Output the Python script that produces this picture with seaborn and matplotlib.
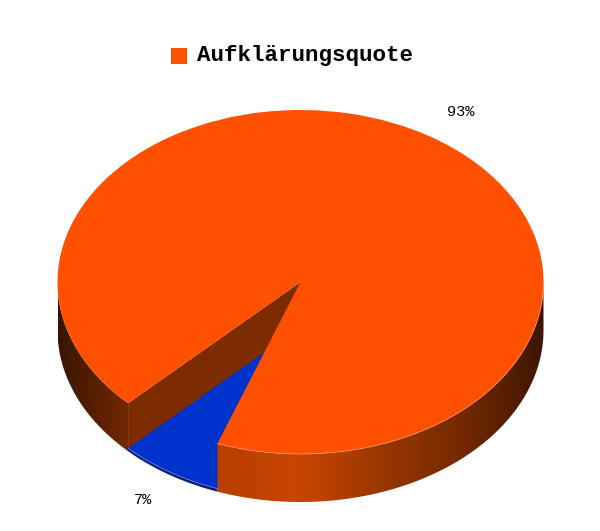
import matplotlib
matplotlib.use("Agg")
import matplotlib.pyplot as plt
from matplotlib.patches import Polygon
import numpy as np
import seaborn as sns

slices = ["Aufklärungsquote", "Rest"]
shares = [93, 7]

ORANGE = "#ff5000"
BLUE = "#0033cc"
DARK_BLUE = "#0a1f7a"
CUT_WALL = "#7c2c00"
RIM = "#ff9860"
START = 250
DEPTH = 48 / 172
BLUE_THICK = 3 / 172

sns.set_theme(style="white")
plt.rcParams["font.family"] = ["Liberation Mono", "DejaVu Sans"]


def rim(t0, t1, dz=0.0):
    t = np.radians(np.linspace(t0, t1, 120))
    return np.column_stack([np.cos(t), np.sin(t) + dz])


def side_wall(t0, t1, dz=-DEPTH):
    return np.vstack([rim(t0, t1), rim(t0, t1, dz)[::-1]])


fig = plt.figure(figsize=(6, 5.31), dpi=100)
ax = fig.add_axes([0, 0, 1, 1])

# slice boundaries in degrees, from the shares
cut = START + shares[1] * 3.6 * (-1)

# back wall of the cut, seen through the gap
wall = np.array([[0, 0], rim(cut, cut)[0], rim(cut, cut, -DEPTH)[0], [0, -DEPTH]])
ax.add_patch(Polygon(wall, closed=True, fc=CUT_WALL, ec="none", zorder=1))

# the low blue slice sits near the floor of the cake
ax.add_patch(Polygon(side_wall(cut, START, -BLUE_THICK) + [0, -DEPTH + BLUE_THICK],
                     closed=True, fc=DARK_BLUE, ec="none", zorder=2))
blue, _ = ax.pie(shares, colors=["none", BLUE], startangle=START, counterclock=True,
                 center=(0, -DEPTH + BLUE_THICK), wedgeprops={"zorder": 3, "lw": 0})

# outer wall with the shading running left to right
shade = sns.blend_palette(["#3a1400", "#7c2c00", "#b83f00", "#c84400",
                           "#9a3600", "#742900", "#3e1500"], n_colors=256, as_cmap=True)
for t0, t1 in [(START, 360), (180, cut)]:
    im = ax.imshow(np.linspace(0, 1, 256)[None, :], cmap=shade, aspect="auto",
                   extent=(-1, 1, -1 - DEPTH, 0.2), zorder=4)
    poly = Polygon(side_wall(t0, t1), closed=True, fc="none", ec="none", zorder=4)
    ax.add_patch(poly)
    im.set_clip_path(poly)

wedges, _, pct = ax.pie(shares, colors=[ORANGE, "none"], startangle=START,
                        autopct="%d%%", pctdistance=1.2,
                        wedgeprops={"zorder": 5, "lw": 0},
                        textprops={"fontsize": 11, "color": "black", "zorder": 7})
for txt in pct:
    x, y = txt.get_position()
    if y < 0:
        txt.set_position((x, y * 0.98 - DEPTH))
    else:
        txt.set_position((x * 1.02, y * 0.98))

xy = rim(START, 360)
ax.plot(xy[:, 0], xy[:, 1], color=RIM, lw=0.5, zorder=6)
xy = rim(cut, START, -DEPTH + BLUE_THICK)
ax.plot(xy[:, 0], xy[:, 1], color="#6f8cf0", lw=0.4, zorder=6)

ax.set_aspect("auto")
ax.set_xlim(-300.5 / 243, 299.5 / 243)
ax.set_ylim((282 - 531) / 172, 282 / 172)
ax.axis("off")

leg = ax.legend([wedges[0]], slices[:1], loc="center", bbox_to_anchor=(292 / 600, 1 - 56 / 531),
                frameon=False, handlelength=0.72, handleheight=0.72, handletextpad=0.42,
                labelcolor="black",
                prop={"family": "Liberation Mono", "weight": "bold", "size": 16.2})
leg.get_patches()[0].set_y(-1.5)

fig.savefig("out.png", dpi=100, facecolor="white")
